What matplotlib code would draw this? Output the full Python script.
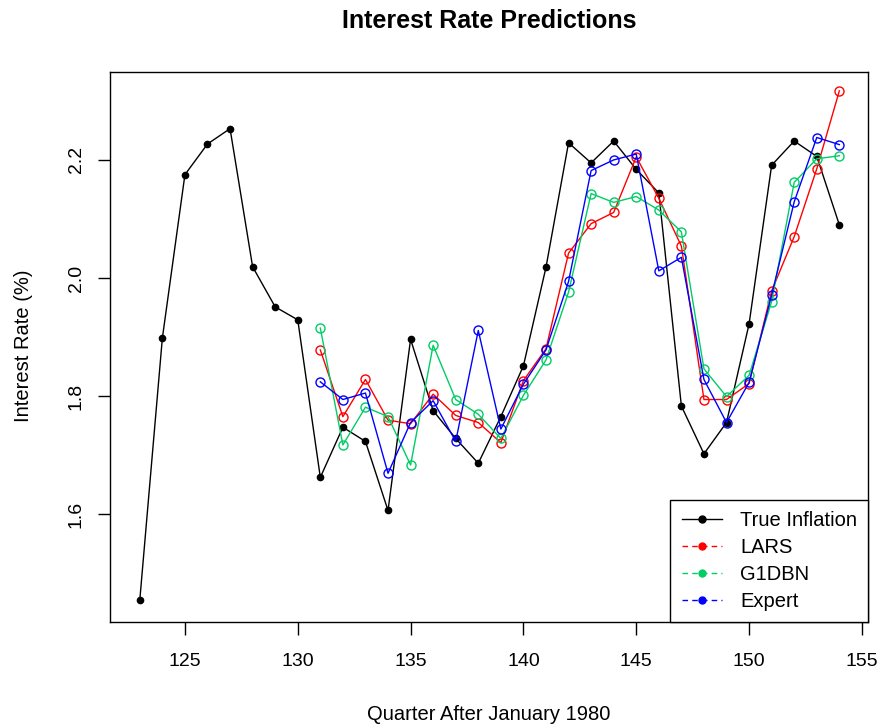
import matplotlib
matplotlib.use("Agg")
import matplotlib.pyplot as plt
from matplotlib.lines import Line2D

plt.rcParams["font.family"] = ["Liberation Sans", "DejaVu Sans"]

# data
quarters = list(range(123, 155))
true_inflation = [1.454, 1.898, 2.175, 2.227, 2.253, 2.019, 1.951, 1.929,
                  1.662, 1.747, 1.723, 1.606, 1.896, 1.775, 1.728, 1.686,
                  1.765, 1.851, 2.018, 2.229, 2.195, 2.232, 2.184, 2.144,
                  1.783, 1.702, 1.755, 1.922, 2.191, 2.232, 2.206, 2.090]

pred_quarters = list(range(131, 155))
lars = [1.878, 1.765, 1.828, 1.759, 1.753, 1.803, 1.767, 1.755, 1.721, 1.826,
        1.880, 2.042, 2.092, 2.111, 2.205, 2.135, 2.054, 1.794, 1.794, 1.821,
        1.978, 2.070, 2.185, 2.317]
g1dbn = [1.915, 1.717, 1.781, 1.765, 1.683, 1.886, 1.794, 1.769, 1.728, 1.801,
         1.861, 1.976, 2.143, 2.128, 2.138, 2.115, 2.078, 1.846, 1.799, 1.835,
         1.960, 2.162, 2.202, 2.207]
expert = [1.824, 1.794, 1.805, 1.669, 1.755, 1.792, 1.723, 1.911, 1.744, 1.820,
          1.878, 1.994, 2.182, 2.200, 2.210, 2.012, 2.035, 1.828, 1.755, 1.823,
          1.971, 2.129, 2.238, 2.226]

green = "#00CD66"
W, H = 885, 727

fig = plt.figure(figsize=(W / 100, H / 100), dpi=100)
ax = fig.add_axes([110 / W, 1 - 622 / H, 758 / W, 550 / H])

ax.plot(quarters, true_inflation, color="black", lw=1, marker="o", ms=4.5)
ax.plot(pred_quarters, lars, color="red", lw=1, marker="o", ms=6.5,
        mfc="none", mew=1)
ax.plot(pred_quarters, g1dbn, color=green, lw=1, marker="o", ms=6.5,
        mfc="none", mew=1)
ax.plot(pred_quarters, expert, color="blue", lw=1, marker="o", ms=6.5,
        mfc="none", mew=1)

ax.set_xlim(121.68, 155.27)
ax.set_ylim(1.417, 2.349)
ax.set_xticks([125, 130, 135, 140, 145, 150, 155])
ax.set_yticks([1.6, 1.8, 2.0, 2.2])
ax.set_yticklabels(["1.6", "1.8", "2.0", "2.2"], rotation=90, va="center")
ax.tick_params(direction="out", length=9, labelsize=14, width=1)
ax.tick_params(axis="x", pad=13)
ax.tick_params(axis="y", pad=9)
for s in ax.spines.values():
    s.set_linewidth(1)

fig.text(489 / W, 1 - 21 / H, "Interest Rate Predictions", fontsize=18,
         fontweight="bold", ha="center", va="center")
fig.text(489 / W, 1 - 714 / H, "Quarter After January 1980", fontsize=14.5,
         ha="center", va="center")
fig.text(24 / W, 1 - 346 / H, "Interest Rate (%)", fontsize=14.5,
         rotation=90, ha="center", va="center")

handles = [
    Line2D([], [], color="black", lw=1, marker="o", ms=5),
    Line2D([], [], color="red", lw=1, ls=(0, (4, 3)), marker="o", ms=5),
    Line2D([], [], color=green, lw=1, ls=(0, (4, 3)), marker="o", ms=5),
    Line2D([], [], color="blue", lw=1, ls=(0, (4, 3)), marker="o", ms=5),
]
leg = ax.legend(handles, ["True Inflation", "LARS", "G1DBN", "Expert"],
                loc="lower right", borderaxespad=0, fancybox=False,
                edgecolor="black", framealpha=1, fontsize=14.5,
                handlelength=2, labelspacing=0.4, borderpad=0.55,
                handletextpad=0.9)
leg.get_frame().set_linewidth(1)

fig.savefig("out.png", dpi=100)
